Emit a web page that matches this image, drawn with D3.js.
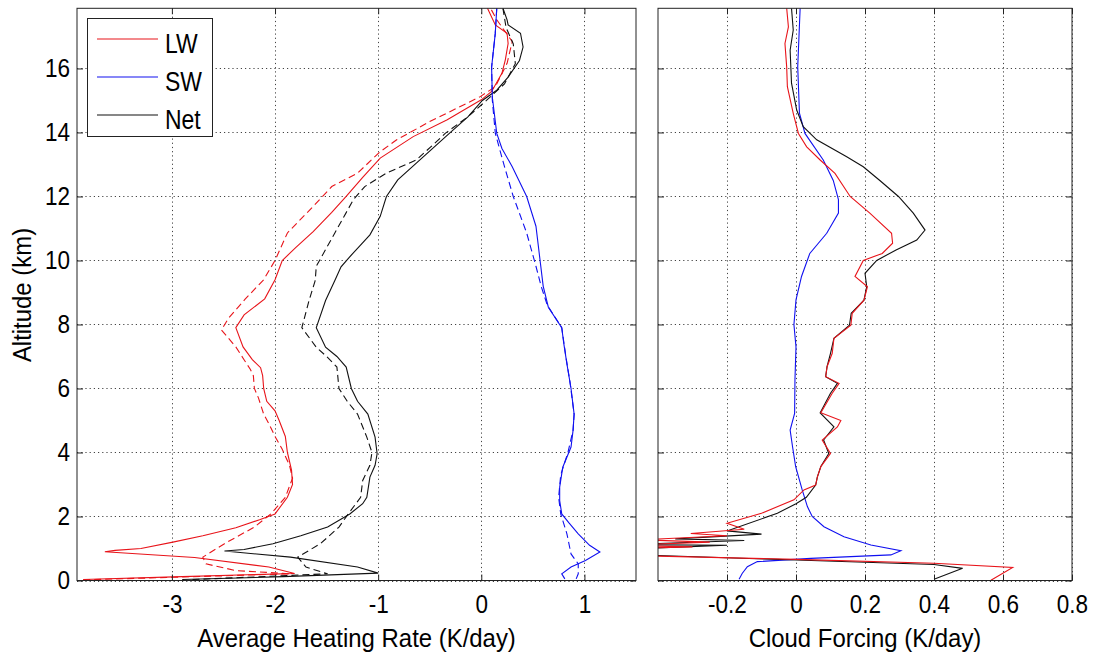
<!DOCTYPE html>
<html>
<head>
<meta charset="utf-8">
<script src="https://cdn.jsdelivr.net/npm/d3@7"></script>
<style>
  body { margin: 0; background: #fff; }
  svg { display: block; font-family: "Liberation Sans", Arial, Helvetica, sans-serif; }
  .tick text { font-size: 25px; fill: #000; }
  .lbl { font-size: 26px; fill: #000; }
  .leg { font-size: 27px; fill: #000; }
</style>
</head>
<body>
<svg id="chart" width="1093" height="656"></svg>
<script>
// tick values
const altTicks = [0, 2, 4, 6, 8, 10, 12, 14, 16];
const rateTicks = [-3, -2, -1, 0, 1];
const forcingTicks = [-0.2, 0, 0.2, 0.4, 0.6, 0.8];

// left panel: [heating rate K/day, altitude km], solid = all-sky, dashed = clear-sky
const lwAll = [[-3.86,0.03],[-2.9,0.12],[-1.81,0.22],[-2.06,0.42],[-2.78,0.72],[-3.65,0.9],[-3.55,0.94],[-3.3,1.0],[-2.99,1.2],[-2.7,1.4],[-2.38,1.65],[-2.15,1.9],[-2.0,2.08],[-1.88,2.6],[-1.83,3.0],[-1.84,3.45],[-1.88,4.0],[-1.9,4.5],[-1.96,5.0],[-2.0,5.3],[-2.08,5.6],[-2.11,6.0],[-2.12,6.4],[-2.14,6.65],[-2.22,6.9],[-2.31,7.3],[-2.38,7.9],[-2.3,8.3],[-2.1,8.8],[-2.0,9.4],[-1.93,10.0],[-1.8,10.4],[-1.63,10.9],[-1.45,11.5],[-1.31,12.0],[-1.15,12.6],[-0.98,13.2],[-0.66,13.87],[-0.33,14.4],[0.0,15.02],[0.1,15.28],[0.2,15.85],[0.233,16.27],[0.26,16.78],[0.25,17.1],[0.136,17.36],[0.06,17.88]];
const lwClear = [[-3.86,0.02],[-2.99,0.1],[-1.85,0.21],[-2.38,0.31],[-2.67,0.52],[-2.7,0.73],[-2.49,1.15],[-2.2,1.67],[-2.04,2.08],[-1.9,2.6],[-1.83,3.2],[-1.86,3.6],[-1.93,4.1],[-2.0,4.5],[-2.06,4.9],[-2.11,5.2],[-2.16,5.7],[-2.2,6.0],[-2.21,6.4],[-2.24,6.6],[-2.3,6.9],[-2.38,7.3],[-2.52,7.83],[-2.45,8.2],[-2.29,8.79],[-2.11,9.4],[-2.0,10.0],[-1.88,10.86],[-1.63,11.69],[-1.45,12.31],[-1.2,12.73],[-0.98,13.4],[-0.82,13.77],[-0.5,14.34],[-0.01,15.12],[0.136,15.43],[0.25,16.16],[0.3,16.84],[0.15,17.52],[0.09,17.88]];
const swAll = [[0.81,0.05],[0.78,0.21],[0.87,0.42],[1.01,0.625],[1.15,0.89],[1.05,1.1],[0.94,1.46],[0.85,1.8],[0.78,2.08],[0.76,2.5],[0.76,2.92],[0.79,3.54],[0.87,4.17],[0.89,4.7],[0.9,5.2],[0.87,6.0],[0.83,6.77],[0.8,7.4],[0.78,7.9],[0.65,8.54],[0.6,9.2],[0.57,10.0],[0.53,11.07],[0.44,12.0],[0.3,12.93],[0.2,13.5],[0.15,13.97],[0.107,15.1],[0.1,16.04],[0.135,17.08],[0.15,17.88]];
const swClear = [[0.92,0.05],[0.94,0.21],[0.94,0.52],[0.87,0.83],[0.83,1.46],[0.77,2.08],[0.75,2.6],[0.77,3.3],[0.84,4.0],[0.89,4.7],[0.9,5.2],[0.86,6.2],[0.82,7.0],[0.78,7.9],[0.64,8.6],[0.58,9.2],[0.53,9.82],[0.44,10.86],[0.31,12.0],[0.225,12.93],[0.136,13.97],[0.107,15.0],[0.1,16.04],[0.135,17.08],[0.15,17.88]];
const netAll = [[-2.9,0.03],[-1.92,0.12],[-1.0,0.23],[-1.2,0.42],[-1.85,0.73],[-2.49,0.92],[-2.3,0.97],[-2.02,1.15],[-1.75,1.4],[-1.49,1.67],[-1.275,2.08],[-1.15,2.4],[-1.11,2.6],[-1.08,3.23],[-1.03,3.6],[-1.01,3.96],[-1.03,4.48],[-1.1,5.2],[-1.2,5.6],[-1.26,6.0],[-1.31,6.67],[-1.4,7.0],[-1.51,7.29],[-1.6,7.9],[-1.51,8.75],[-1.42,9.375],[-1.36,9.8],[-1.28,10.1],[-1.18,10.45],[-1.08,10.8],[-0.98,11.38],[-0.92,12.0],[-0.81,12.52],[-0.63,13.04],[-0.49,13.45],[-0.31,13.97],[-0.13,14.49],[0.01,15.0],[0.15,15.32],[0.26,15.73],[0.37,16.25],[0.405,16.67],[0.38,17.1],[0.26,17.36],[0.25,17.52],[0.21,17.88]];
const netClear = [[-2.8,0.03],[-2.28,0.1],[-1.49,0.21],[-1.7,0.42],[-1.78,0.73],[-1.56,1.15],[-1.38,1.67],[-1.29,2.08],[-1.17,2.6],[-1.15,3.125],[-1.08,3.6],[-1.06,4.0],[-1.11,4.48],[-1.2,5.2],[-1.3,5.6],[-1.38,6.0],[-1.4,6.67],[-1.5,7.0],[-1.6,7.29],[-1.74,7.9],[-1.67,8.75],[-1.61,9.375],[-1.6,9.82],[-1.42,10.86],[-1.24,11.9],[-1.13,12.31],[-0.92,12.73],[-0.63,13.14],[-0.49,13.55],[-0.35,13.97],[-0.13,14.49],[0.05,15.0],[0.225,15.52],[0.33,16.15],[0.31,16.77],[0.24,17.28],[0.21,17.88]];

// right panel: [cloud forcing K/day, altitude km]
const lwCF = [[0.565,0.01],[0.628,0.41],[0.4,0.54],[0.0,0.66],[-1.05,0.93],[-0.5,1.0],[-0.3,1.05],[-0.5,1.1],[-0.25,1.2],[-0.45,1.27],[-0.2,1.4],[-0.305,1.47],[-0.15,1.6],[-0.2,1.79],[-0.1,2.1],[-0.006,2.52],[0.023,2.83],[0.057,2.98],[0.062,3.24],[0.072,3.56],[0.1,3.97],[0.076,4.39],[0.12,4.8],[0.13,5.0],[0.072,5.24],[0.105,5.85],[0.125,6.16],[0.086,6.37],[0.09,6.68],[0.105,7.1],[0.11,7.57],[0.159,7.98],[0.163,8.35],[0.197,8.76],[0.207,9.18],[0.171,9.5],[0.195,10.0],[0.25,10.22],[0.28,10.54],[0.277,10.85],[0.214,11.48],[0.157,12.0],[0.113,12.72],[0.07,13.14],[0.031,13.55],[0.007,13.97],[-0.008,14.6],[-0.025,15.43],[-0.027,16.05],[-0.032,16.78],[-0.022,17.3],[-0.027,17.88]];
const swCF = [[-0.165,0.04],[-0.156,0.22],[-0.141,0.43],[-0.112,0.59],[0.043,0.69],[0.275,0.8],[0.304,0.93],[0.217,1.11],[0.139,1.37],[0.081,1.68],[0.047,2.0],[0.033,2.31],[0.018,2.83],[-0.001,3.56],[-0.01,4.18],[-0.017,4.7],[-0.004,5.22],[-0.003,6.27],[0.0,7.3],[-0.006,8.0],[0.0,8.77],[0.016,9.5],[0.04,10.22],[0.089,10.85],[0.123,11.48],[0.123,11.9],[0.108,12.5],[0.079,13.14],[0.026,13.97],[0.01,14.6],[0.005,16.05],[0.012,17.88]];
const netCF = [[0.4,0.04],[0.483,0.38],[0.4,0.5],[0.0,0.64],[-0.8,0.92],[-0.45,1.0],[-0.2,1.1],[-0.5,1.12],[-0.15,1.25],[-0.35,1.3],[-0.1,1.45],[-0.2,1.55],[-0.054,2.1],[0.0,2.4],[0.03,2.6],[0.057,2.98],[0.062,3.24],[0.072,3.56],[0.095,3.97],[0.08,4.39],[0.11,4.8],[0.07,5.24],[0.1,5.85],[0.12,6.16],[0.086,6.37],[0.09,6.68],[0.1,7.1],[0.11,7.57],[0.155,7.98],[0.16,8.35],[0.197,8.76],[0.205,9.18],[0.2,9.6],[0.234,10.0],[0.29,10.33],[0.35,10.64],[0.374,10.95],[0.34,11.48],[0.297,12.0],[0.243,12.5],[0.195,12.93],[0.147,13.24],[0.06,13.77],[0.021,14.18],[0.002,14.7],[-0.013,15.54],[-0.017,16.57],[-0.008,17.2],[-0.013,17.88]];

const RED = "#e8141a", BLUE = "#1010f0", BLACK = "#111";
const legendItems = [["LW", RED], ["SW", BLUE], ["Net", BLACK]];

const svg = d3.select("#chart");
const plotTop = 8.3, plotBottom = 580.5;

const y = d3.scaleLinear().domain([0, 17.88]).range([plotBottom, plotTop]);

// the original lettering is taller and narrower than Arial: squeeze each text horizontally
function squeeze(sel, k) {
  sel.each(function () {
    const w = this.getComputedTextLength();
    if (w > 0) {
      this.setAttribute("textLength", w * k);
      this.setAttribute("lengthAdjust", "spacingAndGlyphs");
    }
  });
}

function panel(id, x0, x1, domain, xTicks, yLabels, series) {
  const x = d3.scaleLinear().domain(domain).range([x0, x1]);
  const g = svg.append("g");

  g.append("clipPath").attr("id", id)
    .append("rect").attr("x", x0).attr("y", plotTop).attr("width", x1 - x0).attr("height", plotBottom - plotTop);

  // dotted grid
  const grid = g.append("g").attr("stroke", "#444").attr("stroke-width", 1).attr("stroke-dasharray", "1.2,3");
  grid.selectAll(".gx").data(xTicks).join("line")
    .attr("x1", d => Math.round(x(d)) + 0.5).attr("x2", d => Math.round(x(d)) + 0.5)
    .attr("y1", plotTop).attr("y2", plotBottom);
  grid.selectAll(".gy").data(altTicks).join("line")
    .attr("x1", x0).attr("x2", x1)
    .attr("y1", d => Math.round(y(d)) + 0.5).attr("y2", d => Math.round(y(d)) + 0.5);

  // curves
  const line = d3.line().x(d => x(d[0])).y(d => y(d[1]));
  const curves = g.append("g").attr("clip-path", `url(#${id})`).attr("fill", "none").attr("stroke-width", 1.1);
  series.forEach(s => {
    curves.append("path").datum(s.data)
      .attr("d", line)
      .attr("stroke", s.color)
      .attr("stroke-dasharray", s.dash ? "7,4" : null);
  });

  // axes with inside ticks
  const fmt = d => String(d);
  const bx = g.append("g").attr("transform", `translate(0,${plotBottom})`)
    .call(d3.axisBottom(x).tickValues(xTicks).tickFormat(fmt).tickSize(-6).tickPadding(15));
  g.append("g").attr("transform", `translate(0,${plotTop})`)
    .call(d3.axisTop(x).tickValues(xTicks).tickFormat("").tickSize(-6));
  g.append("g").attr("transform", `translate(${x0},0)`)
    .call(d3.axisLeft(y).tickValues(altTicks).tickFormat(yLabels ? fmt : "").tickSize(-6).tickPadding(7));
  g.append("g").attr("transform", `translate(${x1},0)`)
    .call(d3.axisRight(y).tickValues(altTicks).tickFormat("").tickSize(-6));
  g.selectAll(".domain").remove();
  g.selectAll(".tick line").attr("stroke", "#222");
  bx.selectAll("text").attr("dy", "0.71em");
  squeeze(g.selectAll(".tick text"), 0.9);

  g.append("rect").attr("x", x0).attr("y", plotTop).attr("width", x1 - x0).attr("height", plotBottom - plotTop)
    .attr("fill", "none").attr("stroke", "#222").attr("stroke-width", 1);
  return x;
}

panel("clipL", 77, 636, [-3.92, 1.5], rateTicks, true, [
  { data: lwClear, color: RED, dash: true },
  { data: netClear, color: BLACK, dash: true },
  { data: swClear, color: BLUE, dash: true },
  { data: lwAll, color: RED },
  { data: netAll, color: BLACK },
  { data: swAll, color: BLUE }
]);

panel("clipR", 658, 1072, [-0.4, 0.8], forcingTicks, false, [
  { data: swCF, color: BLUE },
  { data: netCF, color: BLACK },
  { data: lwCF, color: RED }
]);

// axis titles
const titles = svg.append("g");
titles.append("text").attr("class", "lbl").attr("x", 356.5).attr("y", 647).attr("text-anchor", "middle")
  .text("Average Heating Rate (K/day)");
titles.append("text").attr("class", "lbl").attr("x", 865).attr("y", 647).attr("text-anchor", "middle")
  .text("Cloud Forcing (K/day)");
titles.append("text").attr("class", "lbl").attr("text-anchor", "middle")
  .attr("transform", "translate(31,295) rotate(-90)")
  .text("Altitude (km)");
squeeze(titles.selectAll("text"), 0.92);

// legend
const leg = svg.append("g");
leg.append("rect").attr("x", 87.5).attr("y", 18.5).attr("width", 125).attr("height", 118)
  .attr("fill", "#fff").attr("stroke", "#222");
legendItems.forEach(([name, color], i) => {
  const ly = 39 + i * 38;
  leg.append("line").attr("x1", 97).attr("x2", 158).attr("y1", ly).attr("y2", ly)
    .attr("stroke", color).attr("stroke-width", 1.1);
  leg.append("text").attr("class", "leg").attr("x", 165).attr("y", ly + 14).text(name);
});
squeeze(leg.selectAll("text"), 0.85);
</script>
</body>
</html>
